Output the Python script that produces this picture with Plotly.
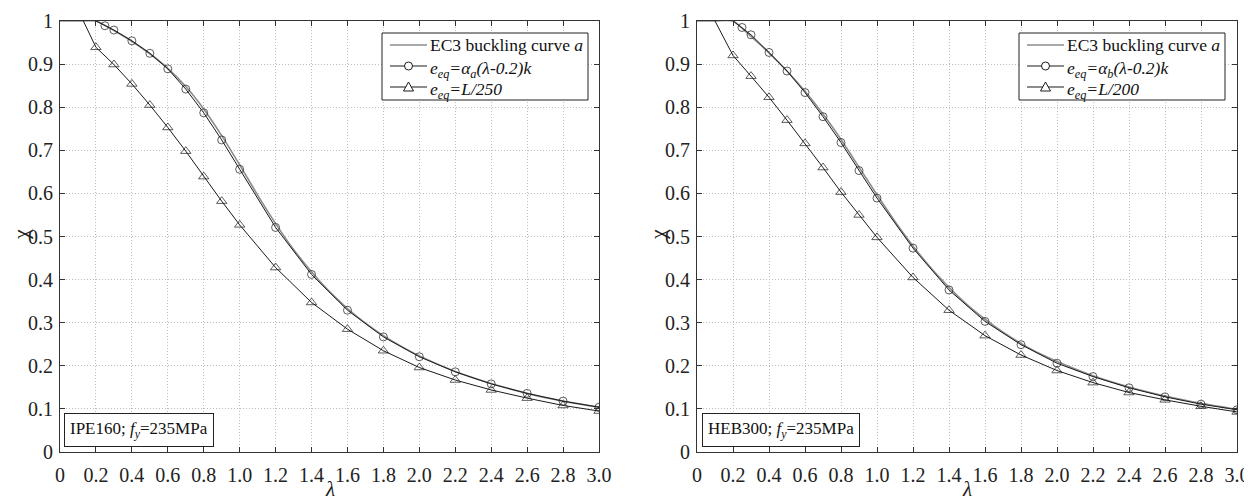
import plotly.graph_objects as go

# ---------------- data ----------------
# EC3 buckling curve a (left panel) and b (right panel)
lam_ec3 = [0.0, 0.1, 0.2, 0.3, 0.4, 0.5, 0.6, 0.7, 0.8, 0.9, 1.0, 1.1, 1.2, 1.3, 1.4, 1.5,
           1.6, 1.7, 1.8, 1.9, 2.0, 2.2, 2.4, 2.6, 2.8, 3.0]
chi_ec3_left = [1.0, 1.0, 1.0, 0.978, 0.953, 0.924, 0.890, 0.848, 0.796, 0.734, 0.666, 0.596,
                0.530, 0.470, 0.418, 0.372, 0.333, 0.299, 0.270, 0.245, 0.223, 0.187,
                0.159, 0.136, 0.118, 0.104]
chi_ec3_right = [1.0, 1.0, 1.0, 0.964, 0.926, 0.884, 0.837, 0.784, 0.725, 0.661, 0.597, 0.535,
                 0.478, 0.427, 0.382, 0.342, 0.308, 0.278, 0.252, 0.229, 0.210, 0.177,
                 0.151, 0.130, 0.113, 0.099]

# circle series (equivalent imperfection alpha(lambda-0.2)k)
lam_circ = [0.2, 0.25, 0.3, 0.4, 0.5, 0.6, 0.7, 0.8, 0.9, 1.0, 1.2, 1.4, 1.6, 1.8, 2.0,
            2.2, 2.4, 2.6, 2.8, 3.0]
chi_circ_left = [1.0, 0.989, 0.979, 0.954, 0.925, 0.889, 0.842, 0.787, 0.724, 0.656, 0.521,
                 0.412, 0.329, 0.267, 0.221, 0.186, 0.158, 0.136, 0.118, 0.104]
chi_circ_right = [1.0, 0.985, 0.968, 0.927, 0.884, 0.834, 0.778, 0.718, 0.653, 0.589, 0.473,
                  0.376, 0.303, 0.249, 0.206, 0.175, 0.149, 0.128, 0.111, 0.098]

# triangle series (L/250 left, L/200 right)
lam_tri = [0.1, 0.2, 0.3, 0.4, 0.5, 0.6, 0.7, 0.8, 0.9, 1.0, 1.2, 1.4, 1.6, 1.8, 2.0,
           2.2, 2.4, 2.6, 2.8, 3.0]
chi_tri_left = [1.026, 0.939, 0.899, 0.854, 0.805, 0.753, 0.698, 0.639, 0.582, 0.527, 0.428,
                0.347, 0.285, 0.235, 0.196, 0.167, 0.144, 0.125, 0.108, 0.095]
chi_tri_right = [1.0, 0.920, 0.872, 0.823, 0.770, 0.716, 0.660, 0.603, 0.550, 0.498, 0.405,
                 0.329, 0.270, 0.225, 0.189, 0.161, 0.138, 0.121, 0.106, 0.093]

x_tickvals = [0, 0.2, 0.4, 0.6, 0.8, 1.0, 1.2, 1.4, 1.6, 1.8, 2.0, 2.2, 2.4, 2.6, 2.8, 3.0]
x_ticktext = ["0", "0.2", "0.4", "0.6", "0.8", "1.0", "1.2", "1.4", "1.6", "1.8", "2.0",
              "2.2", "2.4", "2.6", "2.8", "3.0"]
y_tickvals = [0, 0.1, 0.2, 0.3, 0.4, 0.5, 0.6, 0.7, 0.8, 0.9, 1.0]
y_ticktext = ["0", "0.1", "0.2", "0.3", "0.4", "0.5", "0.6", "0.7", "0.8", "0.9", "1"]

legend_ec3 = "EC3 buckling curve <i>a</i>"
legend_circ_left = "<i>e<sub>eq</sub>=α<sub>a</sub>(λ-0.2)k</i>"
legend_circ_right = "<i>e<sub>eq</sub>=α<sub>b</sub>(λ-0.2)k</i>"
legend_tri_left = "<i>e<sub>eq</sub>=L/250</i>"
legend_tri_right = "<i>e<sub>eq</sub>=L/200</i>"
label_left = "IPE160; <i>f<sub>y</sub></i>=235MPa"
label_right = "HEB300; <i>f<sub>y</sub></i>=235MPa"
x_title = "<i>λ</i>"
y_title = "χ"

FONT = "Liberation Serif"
BLACK = "#1a1a1a"
GREY = "#8c8c8c"

fig = go.Figure()


def add_panel(xa, ya, chi_ec3, chi_circ, chi_tri, name_circ, name_tri):
    fig.add_trace(go.Scatter(x=lam_ec3, y=chi_ec3, mode="lines", name=legend_ec3,
                             line=dict(color=GREY, width=1.6, shape="spline", smoothing=0.6),
                             xaxis=xa, yaxis=ya, showlegend=False))
    circ_sizes = [0] + [8] * (len(lam_circ) - 1)
    fig.add_trace(go.Scatter(x=lam_circ, y=chi_circ, mode="lines+markers", name=name_circ,
                             line=dict(color=BLACK, width=1),
                             marker=dict(symbol="circle-open", size=circ_sizes, color=BLACK,
                                         line=dict(width=1, color=BLACK)),
                             xaxis=xa, yaxis=ya, showlegend=False))
    tri_sizes = [0] + [9] * (len(lam_tri) - 1)
    fig.add_trace(go.Scatter(x=lam_tri, y=chi_tri, mode="lines+markers", name=name_tri,
                             line=dict(color=BLACK, width=1),
                             marker=dict(symbol="triangle-up-open", size=tri_sizes, color=BLACK,
                                         line=dict(width=1, color=BLACK)),
                             xaxis=xa, yaxis=ya, showlegend=False))


add_panel("x", "y", chi_ec3_left, chi_circ_left, chi_tri_left,
          legend_circ_left, legend_tri_left)
add_panel("x2", "y2", chi_ec3_right, chi_circ_right, chi_tri_right,
          legend_circ_right, legend_tri_right)

# The page body has an 8px default margin, so the figure is drawn 8px smaller and
# every screen position is shifted by that offset.
OFF = 8
W, H = 1252 - OFF, 502 - OFF


def px(xp):
    return (xp - OFF) / W


def py(yp):
    return (H - (yp - OFF)) / H


ydom = [py(452), py(21)]
xdom1 = [px(60), px(599)]
xdom2 = [px(697), px(1237)]

TICKFONT = dict(family=FONT, size=20, color="#222")

common_x = dict(range=[0, 3.0], tickvals=x_tickvals, ticktext=x_ticktext, automargin=False,
                ticks="inside", ticklen=5, tickcolor="#333", showline=True, linecolor="#333",
                linewidth=1, mirror="ticks", showgrid=True, gridcolor="#bdbdbd",
                griddash="1px,2px", gridwidth=1, zeroline=False,
                tickfont=TICKFONT, ticklabelstandoff=5)
common_y = dict(range=[0, 1.0], tickvals=y_tickvals, ticktext=y_ticktext, automargin=False,
                ticks="inside", ticklen=5, tickcolor="#333", showline=True, linecolor="#333",
                linewidth=1, mirror="ticks", showgrid=True, gridcolor="#bdbdbd",
                griddash="1px,2px", gridwidth=1, zeroline=False,
                tickfont=TICKFONT, ticklabelstandoff=2)

shapes = []
annotations = []


def add_legend(box_left, labels):
    box_top, box_bottom, box_right = 33, 100, box_left + 206
    shapes.append(dict(type="rect", xref="paper", yref="paper",
                       x0=px(box_left), x1=px(box_right), y0=py(box_bottom), y1=py(box_top),
                       line=dict(color="#222", width=1), fillcolor="white", layer="above"))
    rows = [45, 66, 87]
    styles = [(GREY, 1.6, None), (BLACK, 1, "circle"), (BLACK, 1, "triangle")]
    for row, (col, wid, mk), lab in zip(rows, styles, labels):
        x0, x1 = box_left + 8, box_left + 45
        shapes.append(dict(type="line", xref="paper", yref="paper",
                           x0=px(x0), x1=px(x1), y0=py(row), y1=py(row),
                           line=dict(color=col, width=wid), layer="above"))
        cx = (x0 + x1) / 2
        if mk == "circle":
            shapes.append(dict(type="circle", xref="paper", yref="paper",
                               x0=px(cx - 4), x1=px(cx + 4), y0=py(row + 4), y1=py(row - 4),
                               line=dict(color=BLACK, width=1), fillcolor="white",
                               layer="above"))
        elif mk == "triangle":
            path = "M {} {} L {} {} L {} {} Z".format(
                px(cx), py(row - 5), px(cx - 5), py(row + 4), px(cx + 5), py(row + 4))
            shapes.append(dict(type="path", xref="paper", yref="paper", path=path,
                               line=dict(color=BLACK, width=1), fillcolor="white",
                               layer="above"))
        has_sub = "<sub>" in lab
        annotations.append(dict(text=lab, xref="paper", yref="paper", x=px(box_left + 46),
                                y=py(row + (3 if has_sub else 0)), xanchor="left",
                                yanchor="middle", showarrow=False, align="left",
                                font=dict(family=FONT, size=17.5, color="#111")))


add_legend(382, [legend_ec3, legend_circ_left, legend_tri_left])
add_legend(1019, [legend_ec3, legend_circ_right, legend_tri_right])

for lab, xl in [(label_left, 64), (label_right, 702)]:
    annotations.append(dict(text=lab, xref="paper", yref="paper", x=px(xl), y=py(447),
                            xanchor="left", yanchor="bottom", showarrow=False, align="left",
                            font=dict(family=FONT, size=17, color="#111"), bordercolor="#222",
                            borderwidth=1, borderpad=5, bgcolor="white"))

for xc in [(60 + 599) / 2, (697 + 1237) / 2]:
    annotations.append(dict(text=x_title, xref="paper", yref="paper", x=px(xc), y=py(489),
                            xanchor="center", yanchor="middle", showarrow=False,
                            font=dict(family=FONT, size=21, color="#222")))
for xc in [21, 658]:
    annotations.append(dict(text=y_title, xref="paper", yref="paper", x=px(xc), y=py(235),
                            xanchor="center", yanchor="middle", showarrow=False,
                            textangle=-90, font=dict(family=FONT, size=22, color="#222")))

fig.update_layout(
    width=W, height=H,
    margin=dict(l=0, r=0, t=0, b=0),
    paper_bgcolor="white", plot_bgcolor="white",
    font=dict(family=FONT, size=20, color="#222"),
    xaxis=dict(domain=xdom1, anchor="y", **common_x),
    yaxis=dict(domain=ydom, anchor="x", **common_y),
    xaxis2=dict(domain=xdom2, anchor="y2", **common_x),
    yaxis2=dict(domain=ydom, anchor="x2", **common_y),
    showlegend=False,
    shapes=shapes,
    annotations=annotations,
)

fig.write_html("out.html")
